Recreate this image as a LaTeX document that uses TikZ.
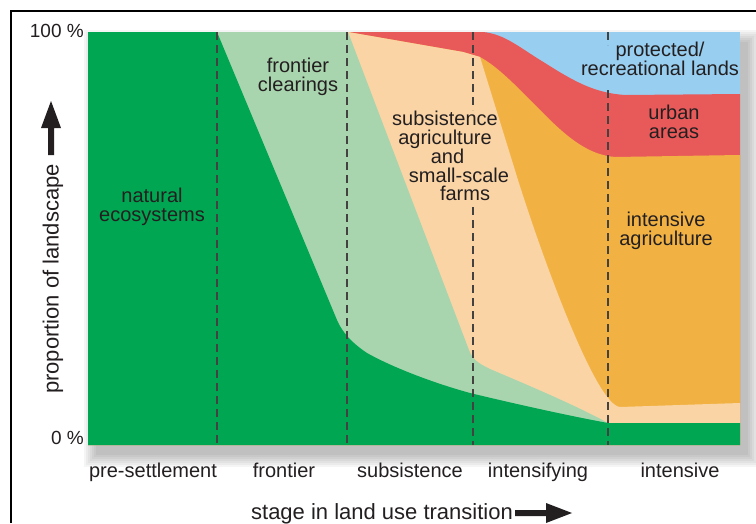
\documentclass[tikz,border=0pt]{standalone}
\usepackage{fontspec}
\setmainfont{Liberation Sans}
\definecolor{natgreen}{HTML}{00A651}
\definecolor{clrgreen}{HTML}{A9D5AE}
\definecolor{subpeach}{HTML}{FAD4A5}
\definecolor{intorange}{HTML}{F2B243}
\definecolor{urbred}{HTML}{E85A5A}
\definecolor{protblue}{HTML}{98CEF0}
\definecolor{ink}{HTML}{231F20}
\tikzset{lab/.style = {align=center, text=ink, inner sep=0pt, font=\fontsize{20}{18.5}\selectfont},
         stg/.style = {anchor=base, text=ink, inner sep=0pt, font=\fontsize{20}{24}\selectfont},
         pct/.style = {anchor=base east, text=ink, inner sep=0pt, font=\fontsize{19}{22}\selectfont},
         ttl/.style = {anchor=base, text=ink, inner sep=0pt, font=\fontsize{22}{26}\selectfont},
         dv/.style  = {draw=ink!85, line width=1.3pt, dash pattern=on 8pt off 5pt}}

\begin{document}
\begin{tikzpicture}[x=1pt, y=-1pt]
    \useasboundingbox (0,0) rectangle (756,523);
    \draw[line width=2pt] (11,523) -- (11,11) -- (756,11);
    \foreach \r in {0,2,...,12}
      \fill[black, opacity=0.04] (96-\r,42-\r) rectangle (748+\r,455+\r);
    \fill[protblue] (88,32) rectangle (740,445);
    \fill[urbred] (88,32) -- (483,32) .. controls (505,34) and (520,48) .. (545,63)
        .. controls (575,82) and (595,93) .. (625,95) -- (740,94) -- (740,445) -- (88,445) -- cycle;
    \fill[intorange] (88,32) -- (348,32) -- (463,52) .. controls (472,54) .. (480,57)
        .. controls (500,68) and (520,90) .. (545,115) .. controls (570,140) and (590,155) .. (615,157)
        -- (740,155) -- (740,445) -- (88,445) -- cycle;
    \fill[subpeach] (88,32) -- (348,32) -- (463,52) .. controls (472,54) .. (480,57) -- (518,180)
        .. controls (540,250) and (595,405) .. (620,407) -- (740,403) -- (740,445) -- (88,445) -- cycle;
    \fill[clrgreen] (88,32) -- (348,32) -- (469,350) .. controls (473,360) and (478,363) .. (490,369)
        .. controls (530,386) and (575,405) .. (608,423) -- (740,423) -- (740,445) -- (88,445) -- cycle;
    \fill[natgreen] (88,32) -- (217,32) -- (337,320) .. controls (342,332) and (352,343) .. (367,353)
        .. controls (390,366) and (430,382) .. (470,393) .. controls (520,405) and (570,416) .. (608,423)
        -- (740,423) -- (740,445) -- (88,445) -- cycle;
    \foreach \xa/\ya/\yb in {217/32/445, 347/32/445, 473/32/110, 473/207/445, 608/32/45, 608/90/445}
      \draw[dv] (\xa,\ya) -- (\xa,\yb);
    \node[lab] (nat) at (152,207) {natural\\ecosystems};
    \node[lab] (front) at (298,77) {frontier\\clearings};
    \node[lab] (subs) at (445,156) {subsistence\\agriculture\\\hspace*{5pt}and\\\hspace*{28pt}small-scale\\\hspace*{40pt}farms};
    \node[lab] (prot) at (660,59) {protected/\\recreational lands};
    \node[lab] (urb) at (674,122) {urban\\areas};
    \node[lab] (intag) at (666,231) {intensive\\agriculture};
    \node[pct] (top) at (84,37) {100 \%};
    \node[pct] (bot) at (84,444) {0 \%};
    \node[stg] (s1) at (153,477) {pre-settlement};
    \node[stg] (s2) at (284,477) {frontier};
    \node[stg] (s3) at (410,477) {subsistence};
    \node[stg] (s4) at (538,477) {intensifying};
    \node[stg] (s5) at (680,477) {intensive};
    \node[ttl] (xt) at (382,519) {stage in land use transition};
    \node[ttl, rotate=90] (yt) at (58.5,279) {proportion of landscape};
    \fill[ink] (48,155) -- (48,128) -- (41,128) -- (51,101) -- (61,128) -- (54,128) -- (54,155) -- cycle;
    \fill[ink] (515,510) -- (546,510) -- (546,503) -- (572,513) -- (546,523) -- (546,516) -- (515,516) -- cycle;
\end{tikzpicture}
\end{document}
